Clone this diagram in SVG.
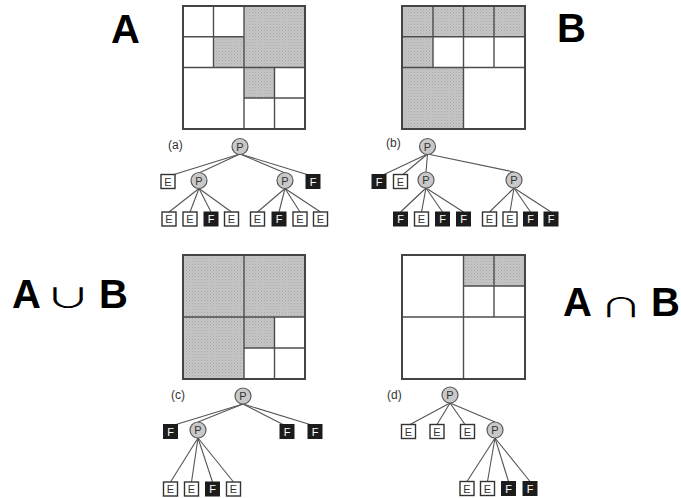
<svg xmlns="http://www.w3.org/2000/svg" width="681" height="498" viewBox="0 0 681 498">
<defs>
<pattern id="dots" width="3" height="3" patternUnits="userSpaceOnUse">
<rect width="3" height="3" fill="#c6c6c6"/>
<rect x="0" y="0" width="1" height="1" fill="#a9a9a9"/>
<rect x="1.5" y="1.5" width="1" height="1" fill="#b2b2b2"/>
</pattern>
</defs>
<style>
.bg{fill:#ffffff}
.g{fill:url(#dots);stroke:none}
.ln{stroke:#4d4d4d;stroke-width:1.4;fill:none}
.out{stroke:#444;stroke-width:2;fill:none}
.edge{stroke:#555;stroke-width:1.1;fill:none}
.pc{fill:#c9c9c9;stroke:#5a5a5a;stroke-width:1.2}
.eb{fill:#fff;stroke:#333;stroke-width:1.4}
.fb{fill:#1c1c1c;stroke:#1c1c1c;stroke-width:1}
.t{font-family:"Liberation Sans",Arial,sans-serif;font-size:11px;text-anchor:middle}
.tw{fill:#fff}
.tk{fill:#333}
.lab{font-family:"Liberation Sans",Arial,sans-serif;font-size:12px;fill:#333}
.big{font-family:"Liberation Sans",Arial,sans-serif;font-size:40px;font-weight:bold;fill:#000}
.op{font-family:"Noto Sans CJK SC","DejaVu Sans",sans-serif;font-size:38px;font-weight:normal;fill:#000;text-anchor:middle}
</style>
<rect class="bg" width="681" height="498"/>

<g id="labelA"><text class="big" x="111" y="43">A</text></g>
<g id="labelB"><text class="big" x="557" y="42">B</text></g>
<g id="labelUnion"><text class="big" x="12" y="308">A</text><text class="op" transform="translate(68,308) scale(1.2,0.72)" x="0" y="0">∪</text><text class="big" x="99" y="308">B</text></g>
<g id="labelInter"><text class="big" x="563" y="316">A</text><text class="op" transform="translate(621,317) scale(1.12,0.68)" x="0" y="0">∩</text><text class="big" x="651" y="316">B</text></g>

<g id="gridA">
<rect class="g" x="244" y="6" width="61" height="61.5"/>
<rect class="g" x="213.5" y="36.8" width="30.5" height="30.7"/>
<rect class="g" x="244" y="67.5" width="30.5" height="30.5"/>
<line class="ln" x1="244" y1="6" x2="244" y2="129"/>
<line class="ln" x1="183" y1="67.5" x2="305" y2="67.5"/>
<line class="ln" x1="213.5" y1="6" x2="213.5" y2="67.5"/>
<line class="ln" x1="183" y1="36.8" x2="244" y2="36.8"/>
<line class="ln" x1="274.5" y1="67.5" x2="274.5" y2="129"/>
<line class="ln" x1="244" y1="98" x2="305" y2="98"/>
<rect class="out" x="183" y="6" width="122" height="123"/>
</g>

<g id="gridB">
<rect class="g" x="402" y="6" width="61.5" height="30.8"/>
<rect class="g" x="463.5" y="6" width="61.5" height="30.8"/>
<rect class="g" x="402" y="36.8" width="31" height="30.7"/>
<rect class="g" x="402" y="67.5" width="61.5" height="61.5"/>
<line class="ln" x1="463.5" y1="6" x2="463.5" y2="129"/>
<line class="ln" x1="402" y1="67.5" x2="525" y2="67.5"/>
<line class="ln" x1="433" y1="6" x2="433" y2="67.5"/>
<line class="ln" x1="494" y1="6" x2="494" y2="67.5"/>
<line class="ln" x1="402" y1="36.8" x2="525" y2="36.8"/>
<rect class="out" x="402" y="6" width="123" height="123"/>
</g>

<g id="gridC">
<rect class="g" x="183" y="255" width="122" height="62"/>
<rect class="g" x="183" y="317" width="61" height="62"/>
<rect class="g" x="244" y="317" width="30.5" height="31"/>
<line class="ln" x1="244" y1="255" x2="244" y2="379"/>
<line class="ln" x1="183" y1="317" x2="305" y2="317"/>
<line class="ln" x1="274.5" y1="317" x2="274.5" y2="379"/>
<line class="ln" x1="244" y1="348" x2="305" y2="348"/>
<rect class="out" x="183" y="255" width="122" height="124"/>
</g>

<g id="gridD">
<rect class="g" x="463.5" y="255" width="61.5" height="31"/>
<line class="ln" x1="463.5" y1="255" x2="463.5" y2="379"/>
<line class="ln" x1="402" y1="317" x2="525" y2="317"/>
<line class="ln" x1="494" y1="255" x2="494" y2="317"/>
<line class="ln" x1="463.5" y1="286" x2="525" y2="286"/>
<rect class="out" x="402" y="255" width="123" height="124"/>
</g>

<g id="connectors">
<line class="edge" x1="240" y1="154" x2="174" y2="174.5"/>
<line class="edge" x1="240" y1="154" x2="199" y2="173"/>
<line class="edge" x1="240" y1="154" x2="285" y2="173"/>
<line class="edge" x1="240" y1="154" x2="307" y2="174.5"/>
<line class="edge" x1="199" y1="188.5" x2="169" y2="212"/>
<line class="edge" x1="199" y1="188.5" x2="190" y2="212"/>
<line class="edge" x1="199" y1="188.5" x2="211" y2="212"/>
<line class="edge" x1="199" y1="188.5" x2="231.5" y2="212"/>
<line class="edge" x1="285" y1="188.5" x2="257.5" y2="212"/>
<line class="edge" x1="285" y1="188.5" x2="279" y2="212"/>
<line class="edge" x1="285" y1="188.5" x2="300" y2="212"/>
<line class="edge" x1="285" y1="188.5" x2="320.5" y2="212"/>
<line class="edge" x1="427.5" y1="154" x2="384" y2="174.5"/>
<line class="edge" x1="427.5" y1="154" x2="403" y2="174.5"/>
<line class="edge" x1="427.5" y1="154" x2="426" y2="172"/>
<line class="edge" x1="427.5" y1="154" x2="514" y2="172"/>
<line class="edge" x1="426" y1="188" x2="400.5" y2="212"/>
<line class="edge" x1="426" y1="188" x2="421.5" y2="212"/>
<line class="edge" x1="426" y1="188" x2="442.5" y2="212"/>
<line class="edge" x1="426" y1="188" x2="463.5" y2="212"/>
<line class="edge" x1="514" y1="188" x2="489.5" y2="212"/>
<line class="edge" x1="514" y1="188" x2="510" y2="212"/>
<line class="edge" x1="514" y1="188" x2="530.5" y2="212"/>
<line class="edge" x1="514" y1="188" x2="551" y2="212"/>
<line class="edge" x1="243" y1="404" x2="176" y2="424.5"/>
<line class="edge" x1="243" y1="404" x2="198" y2="422"/>
<line class="edge" x1="243" y1="404" x2="283" y2="424.5"/>
<line class="edge" x1="243" y1="404" x2="310" y2="424.5"/>
<line class="edge" x1="198" y1="438" x2="170.5" y2="482"/>
<line class="edge" x1="198" y1="438" x2="191.5" y2="482"/>
<line class="edge" x1="198" y1="438" x2="212.5" y2="482"/>
<line class="edge" x1="198" y1="438" x2="233.5" y2="482"/>
<line class="edge" x1="450" y1="403" x2="410" y2="424.5"/>
<line class="edge" x1="450" y1="403" x2="437" y2="424.5"/>
<line class="edge" x1="450" y1="403" x2="465" y2="424.5"/>
<line class="edge" x1="450" y1="403" x2="495" y2="422"/>
<line class="edge" x1="495" y1="438" x2="467" y2="481.5"/>
<line class="edge" x1="495" y1="438" x2="487.5" y2="481.5"/>
<line class="edge" x1="495" y1="438" x2="508.5" y2="481.5"/>
<line class="edge" x1="495" y1="438" x2="530" y2="481.5"/>
</g>

<g id="treeA">
<text class="lab" x="168" y="149">(a)</text>
<g id="a-root"><circle class="pc" cx="240" cy="146.5" r="8"/><text class="t tk" x="240" y="150.5">P</text></g>
<g id="a-1"><rect class="eb" x="161" y="174.5" width="14" height="14"/><text class="t tk" x="168" y="185.5">E</text></g>
<g id="a-2"><circle class="pc" cx="199" cy="180.5" r="8"/><text class="t tk" x="199" y="184.5">P</text></g>
<g id="a-3"><circle class="pc" cx="285" cy="180.5" r="8"/><text class="t tk" x="285" y="184.5">P</text></g>
<g id="a-4"><rect class="fb" x="306" y="174.5" width="14" height="14"/><text class="t tw" x="313" y="185.5">F</text></g>
<g id="a-21"><rect class="eb" x="162" y="212" width="14" height="14"/><text class="t tk" x="169" y="223">E</text></g>
<g id="a-22"><rect class="eb" x="183" y="212" width="14" height="14"/><text class="t tk" x="190" y="223">E</text></g>
<g id="a-23"><rect class="fb" x="204" y="212" width="14" height="14"/><text class="t tw" x="211" y="223">F</text></g>
<g id="a-24"><rect class="eb" x="224.5" y="212" width="14" height="14"/><text class="t tk" x="231.5" y="223">E</text></g>
<g id="a-31"><rect class="eb" x="250.5" y="212" width="14" height="14"/><text class="t tk" x="257.5" y="223">E</text></g>
<g id="a-32"><rect class="fb" x="272" y="212" width="14" height="14"/><text class="t tw" x="279" y="223">F</text></g>
<g id="a-33"><rect class="eb" x="293" y="212" width="14" height="14"/><text class="t tk" x="300" y="223">E</text></g>
<g id="a-34"><rect class="eb" x="313.5" y="212" width="14" height="14"/><text class="t tk" x="320.5" y="223">E</text></g>
</g>

<g id="treeB">
<text class="lab" x="386" y="147">(b)</text>
<g id="b-root"><circle class="pc" cx="427.5" cy="146.5" r="8"/><text class="t tk" x="427.5" y="150.5">P</text></g>
<g id="b-1"><rect class="fb" x="372" y="174.5" width="14" height="14"/><text class="t tw" x="379" y="185.5">F</text></g>
<g id="b-2"><rect class="eb" x="393.5" y="174.5" width="14" height="14"/><text class="t tk" x="400.5" y="185.5">E</text></g>
<g id="b-3"><circle class="pc" cx="426" cy="180" r="8"/><text class="t tk" x="426" y="184">P</text></g>
<g id="b-4"><circle class="pc" cx="514" cy="180" r="8"/><text class="t tk" x="514" y="184">P</text></g>
<g id="b-31"><rect class="fb" x="393.5" y="212" width="14" height="14"/><text class="t tw" x="400.5" y="223">F</text></g>
<g id="b-32"><rect class="eb" x="414.5" y="212" width="14" height="14"/><text class="t tk" x="421.5" y="223">E</text></g>
<g id="b-33"><rect class="fb" x="435.5" y="212" width="14" height="14"/><text class="t tw" x="442.5" y="223">F</text></g>
<g id="b-34"><rect class="fb" x="456.5" y="212" width="14" height="14"/><text class="t tw" x="463.5" y="223">F</text></g>
<g id="b-41"><rect class="eb" x="482.5" y="212" width="14" height="14"/><text class="t tk" x="489.5" y="223">E</text></g>
<g id="b-42"><rect class="eb" x="503" y="212" width="14" height="14"/><text class="t tk" x="510" y="223">E</text></g>
<g id="b-43"><rect class="fb" x="523.5" y="212" width="14" height="14"/><text class="t tw" x="530.5" y="223">F</text></g>
<g id="b-44"><rect class="fb" x="544" y="212" width="14" height="14"/><text class="t tw" x="551" y="223">F</text></g>
</g>

<g id="treeC">
<text class="lab" x="171" y="399">(c)</text>
<g id="c-root"><circle class="pc" cx="243" cy="396" r="8"/><text class="t tk" x="243" y="400">P</text></g>
<g id="c-1"><rect class="fb" x="163.5" y="424.5" width="14" height="14"/><text class="t tw" x="170.5" y="435.5">F</text></g>
<g id="c-2"><circle class="pc" cx="198" cy="430" r="8"/><text class="t tk" x="198" y="434">P</text></g>
<g id="c-3"><rect class="fb" x="280" y="424.5" width="14" height="14"/><text class="t tw" x="287" y="435.5">F</text></g>
<g id="c-4"><rect class="fb" x="308" y="424.5" width="14" height="14"/><text class="t tw" x="315" y="435.5">F</text></g>
<g id="c-21"><rect class="eb" x="163.5" y="482" width="14" height="14"/><text class="t tk" x="170.5" y="493">E</text></g>
<g id="c-22"><rect class="eb" x="184.5" y="482" width="14" height="14"/><text class="t tk" x="191.5" y="493">E</text></g>
<g id="c-23"><rect class="fb" x="205.5" y="482" width="14" height="14"/><text class="t tw" x="212.5" y="493">F</text></g>
<g id="c-24"><rect class="eb" x="226.5" y="482" width="14" height="14"/><text class="t tk" x="233.5" y="493">E</text></g>
</g>

<g id="treeD">
<text class="lab" x="387" y="399">(d)</text>
<g id="d-root"><circle class="pc" cx="450" cy="395" r="8"/><text class="t tk" x="450" y="399">P</text></g>
<g id="d-1"><rect class="eb" x="401.5" y="424.5" width="14" height="14"/><text class="t tk" x="408.5" y="435.5">E</text></g>
<g id="d-2"><rect class="eb" x="430" y="424.5" width="14" height="14"/><text class="t tk" x="437" y="435.5">E</text></g>
<g id="d-3"><rect class="eb" x="460.5" y="424.5" width="14" height="14"/><text class="t tk" x="467.5" y="435.5">E</text></g>
<g id="d-4"><circle class="pc" cx="495" cy="430" r="8"/><text class="t tk" x="495" y="434">P</text></g>
<g id="d-41"><rect class="eb" x="460" y="481.5" width="14" height="14"/><text class="t tk" x="467" y="492.5">E</text></g>
<g id="d-42"><rect class="eb" x="480.5" y="481.5" width="14" height="14"/><text class="t tk" x="487.5" y="492.5">E</text></g>
<g id="d-43"><rect class="fb" x="501.5" y="481.5" width="14" height="14"/><text class="t tw" x="508.5" y="492.5">F</text></g>
<g id="d-44"><rect class="fb" x="523" y="481.5" width="14" height="14"/><text class="t tw" x="530" y="492.5">F</text></g>
</g>
</svg>
